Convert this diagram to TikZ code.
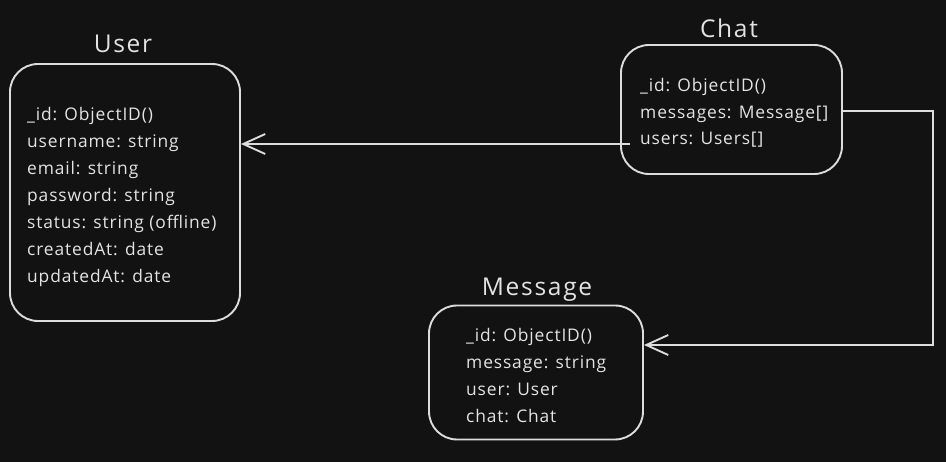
\documentclass[tikz,border=0pt]{standalone}
\usepackage{fontspec}
\setmainfont{Open Sans}
\usetikzlibrary{arrows.meta}
\definecolor{bg}{HTML}{121212}
\definecolor{fg}{HTML}{DCDCDC}
\definecolor{txt}{HTML}{E3E3E3}
\tikzset{
  entity/.style={draw=fg, line width=1.9pt, rounded corners=28pt, inner sep=0pt},
  title/.style={text=txt, font=\fontsize{24.5}{30}\selectfont\addfontfeatures{LetterSpace=7}, anchor=base, inner sep=0pt},
  field/.style={text=txt, font=\fontsize{17.4}{20}\selectfont\addfontfeatures{LetterSpace=5}, anchor=base west, inner sep=0pt},
  link/.style={draw=fg, line width=1.9pt, -{Straight Barb[length=22pt,width=20pt,line width=1.9pt]}}
}
\begin{document}
\begin{tikzpicture}[x=1pt,y=-1pt]
\fill[bg] (0,0) rectangle (946,462);
\useasboundingbox (0,0) rectangle (946,462);

% User
\node[entity, minimum width=230pt, minimum height=257pt] (user) at (125,192.5) {};
\node[title] (usert) at (123,53) {User};
\foreach \t [count=\i] in {\_id: ObjectID(), username: string, email: string, password: string, status: string (offline), createdAt: date, updatedAt: date}
  \node[field] (uf\i) at (27,{121+27*(\i-1)}) {\t};

% Chat
\node[entity, minimum width=221pt, minimum height=129pt] (chat) at (731.5,109.5) {};
\node[title] (chatt) at (729,38) {Chat};
\foreach \t [count=\i] in {\_id: ObjectID(), messages: Message[], users: Users[]}
  \node[field] (cf\i) at (640,{92+26.5*(\i-1)}) {\t};

% Message
\node[entity, minimum width=214pt, minimum height=134pt] (msg) at (536,372.5) {};
\node[title] (msgt) at (537,296) {Message};
\foreach \t [count=\i] in {\_id: ObjectID(), message: string, user: User, chat: Chat}
  \node[field] (mf\i) at (466,{342+26.7*(\i-1)}) {\t};

% connectors
\coordinate (cs) at (630,144);
\draw[link] (cs) -- (user.east |- cs);
\coordinate (ms) at (chat.east |- 0,111);
\coordinate (bend1) at (933,111);
\coordinate (bend2) at (933,345);
\draw[link] (ms) -- (bend1) -- (bend2) -- (msg.east |- bend2);
\end{tikzpicture}
\end{document}
